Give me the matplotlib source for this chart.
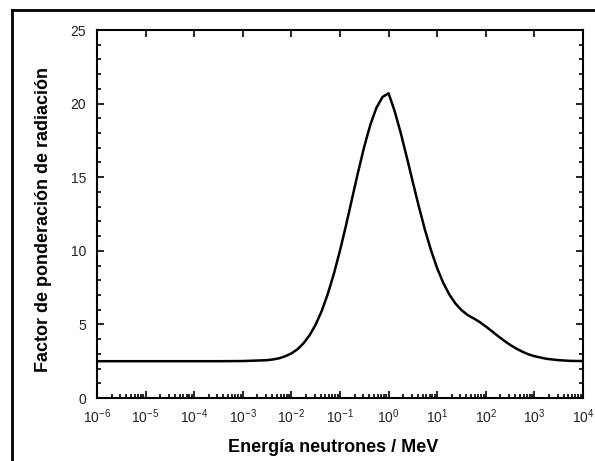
import matplotlib
matplotlib.use("Agg")
import matplotlib.pyplot as plt
from matplotlib.lines import Line2D
from matplotlib.ticker import LogLocator, MultipleLocator, NullFormatter, LogFormatterSciNotation

plt.rcParams['font.family'] = ['Liberation Sans', 'DejaVu Sans']
plt.rcParams['mathtext.fontset'] = 'custom'
plt.rcParams['mathtext.rm'] = 'Liberation Sans'
plt.rcParams['mathtext.it'] = 'Liberation Sans:italic'
plt.rcParams['mathtext.bf'] = 'Liberation Sans:bold'

# Data: log10(E / MeV) and weighting factor
log_energy = [-6.0, -5.0, -4.0, -3.5, -3.0, -2.5, -2.375, -2.25, -2.125, -2.0, -1.875,
              -1.75, -1.625, -1.5, -1.375, -1.25, -1.125, -1.0, -0.875, -0.75, -0.625,
              -0.5, -0.375, -0.25, -0.125, 0.0, 0.125, 0.25, 0.375, 0.5, 0.625, 0.75,
              0.875, 1.0, 1.125, 1.25, 1.375, 1.5, 1.625, 1.699, 1.75, 1.875, 2.0,
              2.125, 2.25, 2.375, 2.5, 2.625, 2.75, 2.875, 3.0, 3.25, 3.5, 3.75, 4.0]
weighting = [2.50, 2.50, 2.50, 2.50, 2.51, 2.57, 2.62, 2.70, 2.84, 3.03, 3.31,
             3.72, 4.27, 4.99, 5.92, 7.08, 8.45, 10.02, 11.75, 13.57, 15.39,
             17.09, 18.57, 19.72, 20.45, 20.70, 19.48, 18.00, 16.35, 14.64, 12.97, 11.40,
             10.01, 8.81, 7.82, 7.03, 6.42, 5.97, 5.64, 5.50, 5.41, 5.16, 4.86,
             4.54, 4.21, 3.90, 3.61, 3.36, 3.15, 2.97, 2.84, 2.66, 2.57, 2.52, 2.51]

x_label = "Energía neutrones / MeV"
y_label = "Factor de ponderación de radiación"

energy = [10.0 ** v for v in log_energy]

fig = plt.figure(figsize=(5.95, 4.61), dpi=100)
ax = fig.add_axes([97 / 595, 1 - 398 / 461, (583 - 97) / 595, (398 - 30) / 461])

ax.plot(energy, weighting, color='black', lw=1.8, solid_joinstyle='round')

ax.set_xscale('log')
ax.set_xlim(1e-6, 1e4)
ax.set_ylim(0, 25)

ax.xaxis.set_major_locator(LogLocator(base=10, numticks=20))
ax.xaxis.set_minor_locator(LogLocator(base=10, subs=range(2, 10), numticks=100))
ax.xaxis.set_major_formatter(LogFormatterSciNotation())
ax.xaxis.set_minor_formatter(NullFormatter())
ax.yaxis.set_major_locator(MultipleLocator(5))
ax.yaxis.set_minor_locator(MultipleLocator(1))

for s in ax.spines.values():
    s.set_linewidth(1.5)

ax.tick_params(which='both', direction='in', width=1.2, colors='black')
ax.tick_params(which='major', length=5)
ax.tick_params(which='minor', length=3)
ax.tick_params(axis='x', which='major', top=True, bottom=True, labelsize=10, pad=7)
ax.tick_params(axis='x', which='minor', top=False, bottom=True)
ax.tick_params(axis='y', which='both', left=True, right=True)
ax.tick_params(axis='y', which='major', labelsize=10, pad=8)
for lab in ax.get_xticklabels() + ax.get_yticklabels():
    lab.set_color('#222222')

ax.set_xlabel(x_label, fontsize=13, fontweight='bold')
ax.set_ylabel(y_label, fontsize=13, fontweight='bold')
ax.xaxis.label.set_va('baseline')
ax.xaxis.set_label_coords((333.5 - 97) / 486, (398 - 452) / 368)
ax.yaxis.label.set_va('baseline')
ax.yaxis.set_label_coords((48 - 97) / 486, (398 - 220) / 368)

# outer frame lines (left and top)
fig.add_artist(Line2D([12 / 595, 12 / 595], [0, 1 - 10 / 461], transform=fig.transFigure,
                      color='black', lw=2))
fig.add_artist(Line2D([12 / 595, 1], [1 - 10 / 461, 1 - 10 / 461], transform=fig.transFigure,
                      color='black', lw=2))

fig.savefig('out.png', dpi=100)
